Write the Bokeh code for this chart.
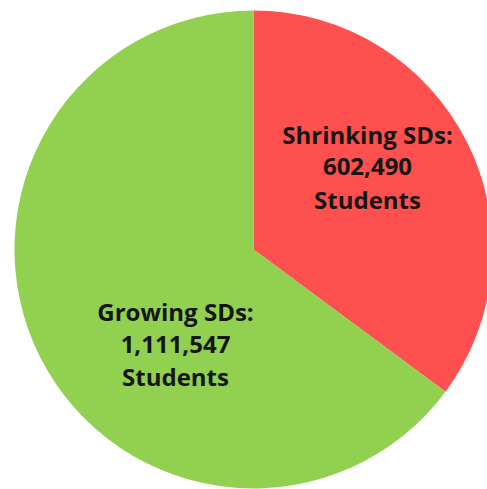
import math
from bokeh.plotting import figure
from bokeh.models import Range1d, ColumnDataSource
from bokeh.core.properties import value
from bokeh.embed import file_html
from bokeh.resources import INLINE

# data
categories = ["Shrinking SDs", "Growing SDs"]
students = [602490, 1111547]
colors = ["#FF5050", "#92D050"]

W, H = 487, 489
cx, cy, r = 253, H - 249, 239

total = sum(students)
# red starts at 12 o'clock going clockwise, green continues
starts, ends = [], []
angle = math.pi / 2
for v in students:
    sweep = 2 * math.pi * v / total
    ends.append(angle)
    starts.append(angle - sweep)
    angle -= sweep

src = ColumnDataSource(dict(x=[cx, cx], y=[cy, cy], start=starts, end=ends, color=colors))

p = figure(width=W, height=H, output_backend="svg", toolbar_location=None,
           x_range=Range1d(0, W), y_range=Range1d(0, H), min_border=0)
p.axis.visible = False
p.grid.visible = False
p.outline_line_color = None
p.background_fill_color = "white"

p.wedge(x="x", y="y", radius=r, start_angle="start", end_angle="end",
        color="color", line_color=None, source=src)

# label positions (pixel centers of first line)
label_pos = [(367, 133.5), (175, 311)]
for cat, v, (lx, ly) in zip(categories, students, label_pos):
    lines = [f"{cat}:", f"{v:,}", "Students"]
    for i, t in enumerate(lines):
        p.text(x=[lx], y=[H - (ly + i * 32.5)], text=[t],
               text_font=value("Open Sans"), text_font_style="bold",
               text_font_size="24px", text_color="#151515",
               text_align="center", text_baseline="middle")

open("out.html", "w").write(file_html(p, INLINE))
